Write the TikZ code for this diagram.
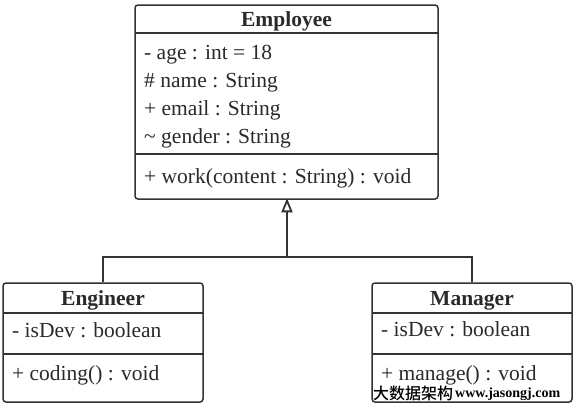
\documentclass[tikz,border=0pt]{standalone}
\usepackage{fontspec}
\setmainfont{Liberation Serif}
\newfontfamily\cjk{Noto Sans CJK SC Medium}
\usetikzlibrary{arrows.meta}
\definecolor{ln}{HTML}{333333}
\definecolor{tx}{HTML}{2A2A2A}
\begin{document}
\begin{tikzpicture}[x=1pt,y=-1pt,
  cls/.style={draw=ln, line width=1.5pt, rounded corners=3pt, fill=white, inner sep=0pt},
  divider/.style={draw=ln, line width=1.5pt},
  ttl/.style={anchor=base, inner sep=0pt, text=tx, font=\fontsize{21.5}{21.5}\selectfont\bfseries},
  mem/.style={anchor=base west, inner sep=0pt, text=tx, font=\fontsize{21.5}{21.5}\selectfont},
  conn/.style={draw=ln, line width=1.5pt},
  inh/.style={draw=ln, line width=2.5pt, -{Triangle[open, length=14pt, width=11pt, line width=1.8pt]}},
  wm/.style={anchor=base west, inner sep=0pt, text=black}]
\useasboundingbox (0,0) rectangle (578,407);
% Employee
\node[cls, minimum width=303pt, minimum height=194pt] (emp) at (286.5,102) {};
\draw[divider] (135,33) -- (438,33);
\draw[divider] (135,154) -- (438,154);
\node[ttl] (empT) at (286.5,26.5) {Employee};
\node[mem] (e1) at (144,59) {- age : int = 18};
\node[mem] (e2) at (144,87) {\# name : String};
\node[mem] (e3) at (144,115) {+ email : String};
\node[mem] (e4) at (144,143) {\textasciitilde{} gender : String};
\node[mem] (e5) at (144,183) {+ work(content : String) : void};
% Engineer
\node[cls, minimum width=200pt, minimum height=119pt] (eng) at (103,342.5) {};
\draw[divider] (3,313) -- (203,313);
\draw[divider] (3,354) -- (203,354);
\node[ttl] (engT) at (103,305) {Engineer};
\node[mem] (g1) at (12,337) {- isDev : boolean};
\node[mem] (g2) at (12,380) {+ coding() : void};
% Manager
\node[cls, minimum width=200pt, minimum height=119pt] (man) at (472,342.5) {};
\draw[divider] (372,313) -- (572,313);
\draw[divider] (372,354) -- (572,354);
\node[ttl] (manT) at (472,305) {Manager};
\node[mem] (m1) at (381,336) {- isDev : boolean};
\node[mem] (m2) at (381,380) {+ manage() : void};
% connectors
\coordinate (jn) at (287,257);
\draw[conn] (eng.north) |- (jn);
\draw[conn] (man.north) |- (jn);
\draw[inh] (jn) -- ([yshift=1.5pt]emp.south -| jn);
% watermark
\node[wm, font=\cjk\fontsize{16}{16}\selectfont] (wm1) at (373,399) {大数据架构};
\node[wm, font=\bfseries\fontsize{14}{14}\selectfont] (wm2) at (455,397) {www.jasongj.com};
\end{tikzpicture}
\end{document}
